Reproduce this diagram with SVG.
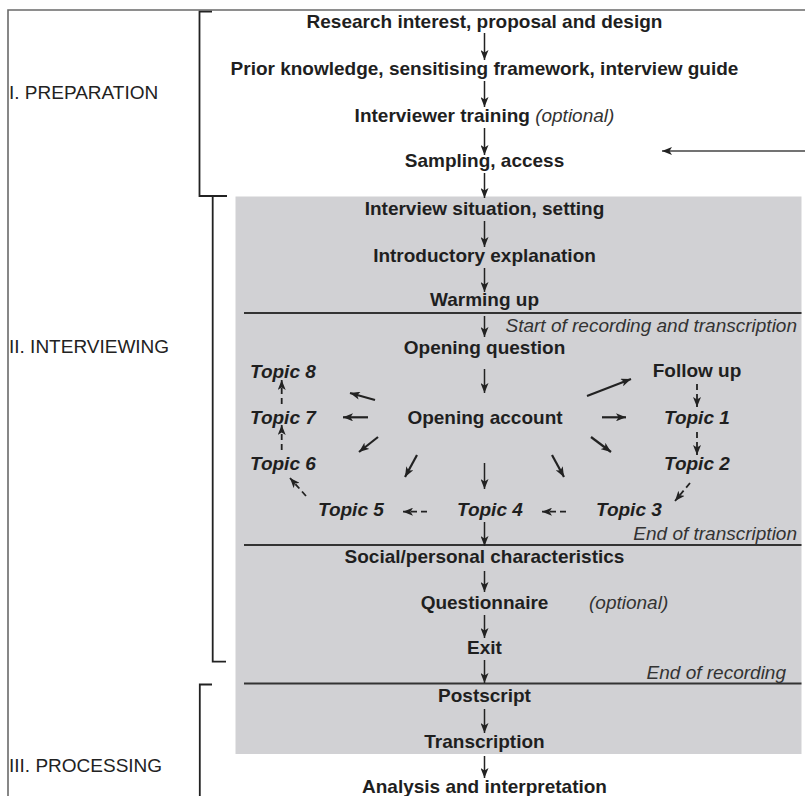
<svg xmlns="http://www.w3.org/2000/svg" width="805" height="796" viewBox="0 0 805 796">
<defs>
<style>
.b{font-family:"Liberation Sans",Arial,sans-serif;font-size:19px;font-weight:bold;fill:#1f1f1f}
.bi{font-family:"Liberation Sans",Arial,sans-serif;font-size:19px;font-weight:bold;font-style:italic;fill:#1f1f1f}
.i{font-family:"Liberation Sans",Arial,sans-serif;font-size:19px;font-weight:normal;font-style:italic;fill:#333}
.lab{font-family:"Liberation Sans",Arial,sans-serif;font-size:19px;fill:#222}
.m{text-anchor:middle}
.e{text-anchor:end}
.ar{stroke:#222;stroke-width:1.5;fill:none;marker-end:url(#ah)}
.at{stroke:#222;stroke-width:2.2;fill:none;marker-end:url(#ah)}
.ad{stroke:#222;stroke-width:1.8;fill:none;stroke-dasharray:6 4;marker-end:url(#ah)}
.br{stroke:#222;stroke-width:1.8;fill:none}
.sep{stroke:#333;stroke-width:1.8}
</style>
<marker id="ah" viewBox="0 0 10 8" refX="10" refY="4" markerWidth="10" markerHeight="8" markerUnits="userSpaceOnUse" orient="auto">
<path d="M0,0 L10,4 L0,8 L2.5,4 z" fill="#222"/>
</marker>
</defs>
<rect x="0" y="0" width="805" height="796" fill="#fff"/>
<g id="frame">
<path d="M8,796 L8,10 L805,10" fill="none" stroke="#6a6a6a" stroke-width="1.6"/>
</g>
<g id="interview-box">
<rect x="235.5" y="196.5" width="566" height="557.5" fill="#d1d1d4"/>
<line class="sep" x1="244" y1="313" x2="801.5" y2="313"/>
<line class="sep" x1="244" y1="545" x2="801.5" y2="545"/>
<line class="sep" x1="244" y1="683.5" x2="801.5" y2="683.5"/>
</g>
<g id="brackets">
<path class="br" d="M212,11.7 L199.5,11.7 L199.5,196 L227,196"/>
<path class="br" d="M212.7,196 L212.7,661.7 L226,661.7"/>
<path class="br" d="M212,684.5 L199.8,684.5 L199.8,796"/>
</g>
<g id="phase-labels">
<text class="lab" x="9" y="99">I. PREPARATION</text>
<text class="lab" x="9" y="353">II. INTERVIEWING</text>
<text class="lab" x="9" y="772">III. PROCESSING</text>
</g>
<g id="n-research"><text class="b m" x="484.5" y="28">Research interest, proposal and design</text></g>
<g id="n-prior"><text class="b m" x="484.5" y="75">Prior knowledge, sensitising framework, interview guide</text></g>
<g id="n-training"><text class="b m" x="484.5" y="122">Interviewer training <tspan class="i">(optional)</tspan></text></g>
<g id="n-sampling"><text class="b m" x="484.5" y="167">Sampling, access</text></g>
<g id="n-situation"><text class="b m" x="484.5" y="215">Interview situation, setting</text></g>
<g id="n-intro"><text class="b m" x="484.5" y="262">Introductory explanation</text></g>
<g id="n-warming"><text class="b m" x="484.5" y="306">Warming up</text></g>
<g id="n-start-rec"><text class="i e" x="797" y="332">Start of recording and transcription</text></g>
<g id="n-opening-q"><text class="b m" x="484.5" y="354">Opening question</text></g>
<g id="n-opening-a"><text class="b m" x="485" y="424">Opening account</text></g>
<g id="n-followup"><text class="b m" x="697" y="377">Follow up</text></g>
<g id="n-topic1"><text class="bi" x="664" y="424">Topic 1</text></g>
<g id="n-topic2"><text class="bi" x="664" y="470">Topic 2</text></g>
<g id="n-topic3"><text class="bi" x="596" y="516">Topic 3</text></g>
<g id="n-topic4"><text class="bi" x="457" y="516">Topic 4</text></g>
<g id="n-topic5"><text class="bi" x="318" y="516">Topic 5</text></g>
<g id="n-topic6"><text class="bi" x="250" y="470">Topic 6</text></g>
<g id="n-topic7"><text class="bi" x="250" y="424">Topic 7</text></g>
<g id="n-topic8"><text class="bi" x="250" y="378">Topic 8</text></g>
<g id="n-end-trans"><text class="i e" x="797" y="540">End of transcription</text></g>
<g id="n-social"><text class="b m" x="484.5" y="563">Social/personal characteristics</text></g>
<g id="n-questionnaire"><text class="b m" x="484.5" y="609">Questionnaire</text><text class="i" x="589" y="609">(optional)</text></g>
<g id="n-exit"><text class="b m" x="484.5" y="654">Exit</text></g>
<g id="n-end-rec"><text class="i e" x="786" y="679">End of recording</text></g>
<g id="n-postscript"><text class="b m" x="484.5" y="702">Postscript</text></g>
<g id="n-transcription"><text class="b m" x="484.5" y="748">Transcription</text></g>
<g id="n-analysis"><text class="b m" x="484.5" y="793">Analysis and interpretation</text></g>
<g id="connectors">
<line class="ar" x1="484.5" y1="33" x2="484.5" y2="60"/>
<line class="ar" x1="484.5" y1="81" x2="484.5" y2="107"/>
<line class="ar" x1="484.5" y1="128" x2="484.5" y2="155"/>
<line class="ar" x1="484.5" y1="173" x2="484.5" y2="198"/>
<line class="ar" x1="484.5" y1="221" x2="484.5" y2="247"/>
<line class="ar" x1="484.5" y1="268" x2="484.5" y2="292"/>
<line class="ar" x1="484.5" y1="316" x2="484.5" y2="337"/>
<line class="ar" x1="484.5" y1="369" x2="484.5" y2="393"/>
<line class="ar" x1="484.5" y1="463" x2="484.5" y2="489"/>
<line class="ar" x1="484.5" y1="522" x2="484.5" y2="546"/>
<line class="ar" x1="484.5" y1="571" x2="484.5" y2="592"/>
<line class="ar" x1="484.5" y1="615" x2="484.5" y2="638"/>
<line class="ar" x1="484.5" y1="660" x2="484.5" y2="683"/>
<line class="ar" x1="484.5" y1="709" x2="484.5" y2="733"/>
<line class="ar" x1="484.5" y1="756" x2="484.5" y2="778"/>
<line x1="805" y1="151" x2="662" y2="151" stroke="#444" stroke-width="1.5" marker-end="url(#ah)"/>
<line class="at" x1="375" y1="400" x2="350" y2="393"/>
<line class="at" x1="368" y1="417.3" x2="343" y2="417.3"/>
<line class="at" x1="378" y1="437" x2="359" y2="452"/>
<line class="at" x1="417" y1="455" x2="405" y2="477"/>
<line class="at" x1="552" y1="455" x2="564" y2="477"/>
<line class="at" x1="591" y1="437" x2="611" y2="452"/>
<line class="at" x1="602" y1="417.3" x2="626" y2="417.3"/>
<line class="at" x1="587" y1="396" x2="631" y2="379"/>
<line class="ad" x1="697" y1="384" x2="697" y2="407"/>
<line class="ad" x1="697" y1="432" x2="697" y2="455"/>
<line class="ad" x1="690" y1="483" x2="675" y2="501"/>
<line class="ad" x1="566" y1="511.7" x2="542" y2="511.7"/>
<line class="ad" x1="427" y1="511.7" x2="403" y2="511.7"/>
<line class="ad" x1="306" y1="496" x2="290" y2="478"/>
<line class="ad" x1="281.7" y1="450" x2="281.7" y2="425"/>
<line class="ad" x1="281.7" y1="404" x2="281.7" y2="380"/>
</g>
</svg>
